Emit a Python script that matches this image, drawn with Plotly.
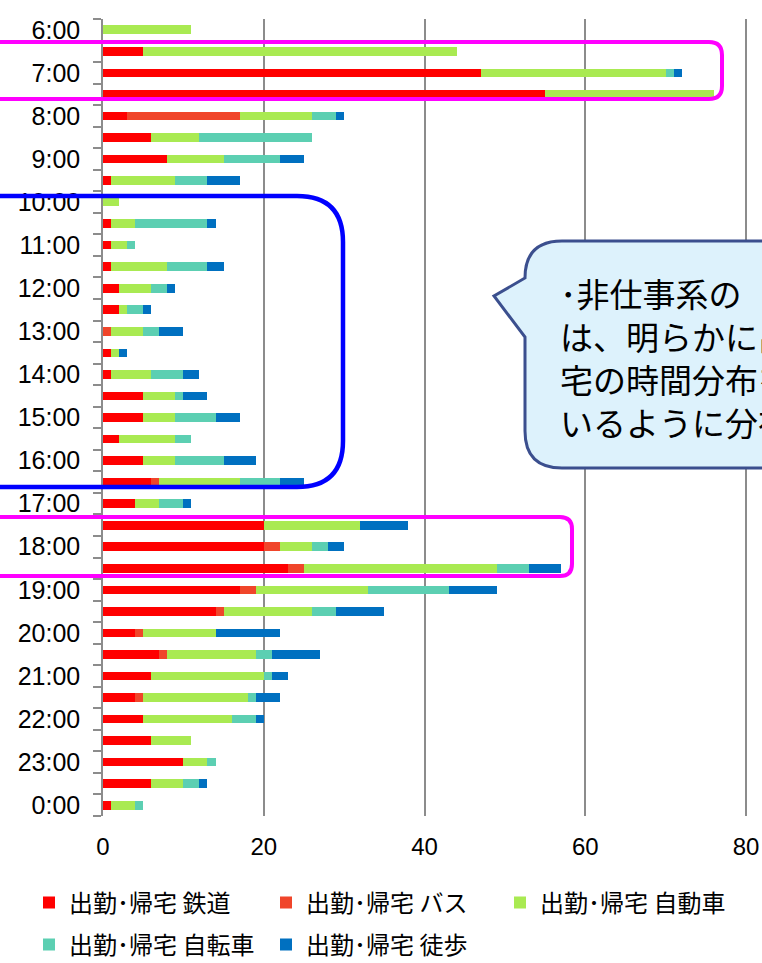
import plotly.graph_objects as go

# Half-hour time slots, top to bottom
times = ["6:00", "6:30", "7:00", "7:30", "8:00", "8:30", "9:00", "9:30", "10:00", "10:30",
         "11:00", "11:30", "12:00", "12:30", "13:00", "13:30", "14:00", "14:30", "15:00", "15:30",
         "16:00", "16:30", "17:00", "17:30", "18:00", "18:30", "19:00", "19:30", "20:00", "20:30",
         "21:00", "21:30", "22:00", "22:30", "23:00", "23:30", "0:00"]

# Trips per slot by mode (commute / return home)
rail = [0, 5, 47, 55, 3, 6, 8, 1, 0, 1, 1, 1, 2, 2, 0, 1, 1, 5, 5, 2,
        5, 6, 4, 20, 20, 23, 17, 14, 4, 7, 6, 4, 5, 6, 10, 6, 1]
bus = [0, 0, 0, 0, 14, 0, 0, 0, 0, 0, 0, 0, 0, 0, 1, 0, 0, 0, 0, 0,
       0, 1, 0, 0, 2, 2, 2, 1, 1, 1, 0, 1, 0, 0, 0, 0, 0]
car = [11, 39, 23, 21, 9, 6, 7, 8, 2, 3, 2, 7, 4, 1, 4, 1, 5, 4, 4, 7,
       4, 10, 3, 12, 4, 24, 14, 11, 9, 11, 14, 13, 11, 5, 3, 4, 3]
bike = [0, 0, 1, 0, 3, 14, 7, 4, 0, 9, 1, 5, 2, 2, 2, 0, 4, 1, 5, 2,
        6, 5, 3, 0, 2, 4, 10, 3, 0, 2, 1, 1, 3, 0, 1, 2, 1]
walk = [0, 0, 1, 0, 1, 0, 3, 4, 0, 1, 0, 2, 1, 1, 3, 1, 2, 3, 3, 0,
        4, 3, 1, 6, 2, 4, 6, 6, 8, 6, 2, 3, 1, 0, 0, 1, 0]

series_names = ["出勤･帰宅 鉄道", "出勤･帰宅 バス", "出勤･帰宅 自動車",
                "出勤･帰宅 自転車", "出勤･帰宅 徒歩"]
series_values = [rail, bus, car, bike, walk]
series_colors = ["#FF0000", "#F0452A", "#A9EA52", "#5CCFB2", "#0070C0"]
series_legend = ["legend", "legend", "legend2", "legend3", "legend3"]

x_ticks = [0, 20, 40, 60, 80]
x_max = 80.25          # a hair past 80 so the last grid line is kept
hour_labels = [t if t.endswith(":00") else "" for t in times]

W, H = 762, 963
PL, PT, PB = 103, 19, 816          # plot area edges in pixels
PW = 645                           # plot width in pixels
PR = PL + PW
GRID = "#8C8C8C"
JP = "Noto Sans CJK JP"


def px_x(px):
    return (px - PL) / PW


def px_y(py):
    return (PB - py) / (PB - PT)


def path_from_px(cmds):
    out = []
    for c in cmds:
        op, pts = c[0], c[1:]
        coords = " ".join(f"{px_x(pts[i]):.5f},{px_y(pts[i + 1]):.5f}" for i in range(0, len(pts), 2))
        out.append(f"{op}{coords}")
    return " ".join(out) + " Z"


def rounded_box(x0, y0, x1, y1, r):
    return path_from_px([
        ("M", x0 + r, y0), ("L", x1 - r, y0), ("Q", x1, y0, x1, y0 + r),
        ("L", x1, y1 - r), ("Q", x1, y1, x1 - r, y1), ("L", x0 + r, y1),
        ("Q", x0, y1, x0, y1 - r), ("L", x0, y0 + r), ("Q", x0, y0, x0 + r, y0),
    ])


fig = go.Figure()
for name, vals, col, lg in zip(series_names, series_values, series_colors, series_legend):
    fig.add_trace(go.Bar(
        y=times, x=vals, name=name, orientation="h",
        marker=dict(color=col, line=dict(width=0)),
        legend=lg,
    ))

shapes = [
    # morning peak
    dict(type="path", xref="paper", yref="paper", layer="above",
         path=rounded_box(-60, 42, 722, 99, 13),
         line=dict(color="#FF00FF", width=4), fillcolor="rgba(0,0,0,0)"),
    # daytime
    dict(type="path", xref="paper", yref="paper", layer="above",
         path=rounded_box(-80, 196, 343, 487, 46),
         line=dict(color="#0000FF", width=4.5), fillcolor="rgba(0,0,0,0)"),
    # evening peak
    dict(type="path", xref="paper", yref="paper", layer="above",
         path=rounded_box(-60, 517, 572, 576, 12),
         line=dict(color="#FF00FF", width=4), fillcolor="rgba(0,0,0,0)"),
    # speech bubble
    dict(type="path", xref="paper", yref="paper", layer="above",
         path=path_from_px([
             ("M", 525, 278), ("Q", 525, 241, 562, 241), ("L", 820, 241),
             ("L", 820, 468), ("L", 562, 468), ("Q", 525, 468, 525, 431),
             ("L", 525, 337), ("L", 494, 296),
         ]),
         line=dict(color="#3B4F8E", width=3), fillcolor="#DDF2FC"),
]

fig.add_annotation(
    xref="paper", yref="paper", x=px_x(558), y=px_y(357),
    xanchor="left", yanchor="middle", align="left", showarrow=False,
    text="･非仕事系の<br>は、明らかに出勤･帰<br>宅の時間分布を避けて<br>いるように分布している",
    font=dict(family=JP, size=33, color="#000000"),
)


def legend_box(x_px, y_px):
    return dict(
        orientation="h", xref="container", yref="container",
        x=x_px / W, xanchor="left", y=1 - y_px / H, yanchor="middle",
        entrywidth=192, entrywidthmode="pixels", traceorder="normal",
        font=dict(family=JP, size=24, color="#000000"),
        bgcolor="rgba(0,0,0,0)",
    )


fig.update_layout(
    template="none",
    width=W, height=H,
    margin=dict(l=PL, r=W - PR, t=PT, b=H - PB, pad=0, autoexpand=False),
    paper_bgcolor="white", plot_bgcolor="white",
    barmode="stack", bargap=0.6,
    shapes=shapes,
    showlegend=True,
    legend=legend_box(29, 903),
    legend2=legend_box(29 + 471, 903),
    legend3=legend_box(29, 945),
    xaxis=dict(
        range=[0, x_max], tickmode="array", tickvals=x_ticks, automargin=False,
        showgrid=True, gridcolor=GRID, gridwidth=1.5, zeroline=False,
        showline=False, ticks="", ticklabelstandoff=14,
        tickfont=dict(family="Liberation Sans", size=24, color="#000000"),
    ),
    xaxis2=dict(
        overlaying="x", side="top", anchor="y", range=[0, x_max], automargin=False,
        tickmode="array", tickvals=x_ticks, showticklabels=False,
        showgrid=False, zeroline=False, showline=True, linecolor=GRID, linewidth=1.5,
        ticks="outside", ticklen=9, tickcolor=GRID, tickwidth=1.5,
    ),
    yaxis=dict(
        type="category", autorange="reversed", automargin=False,
        tickmode="array", tickvals=times, ticktext=hour_labels, tickson="boundaries",
        ticks="outside", ticklen=8, tickcolor=GRID, tickwidth=1.5,
        showline=True, linecolor=GRID, linewidth=1.5, showgrid=False,
        ticklabelstandoff=16,
        tickfont=dict(family="Liberation Sans", size=25, color="#000000"),
    ),
)

fig.write_html("out.html")
